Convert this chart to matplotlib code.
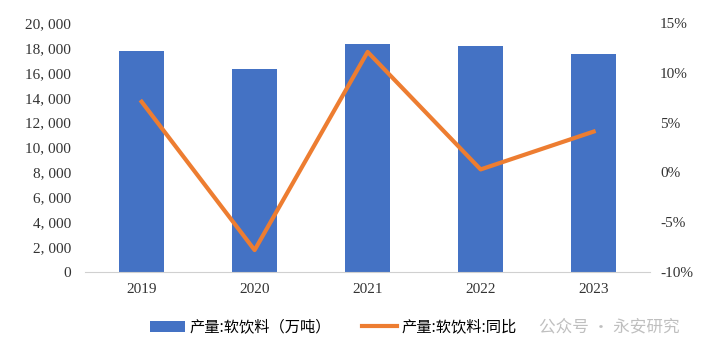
import numpy as np
import matplotlib.pyplot as plt
from matplotlib.ticker import FuncFormatter

plt.rcParams['font.family'] = ['Noto Sans CJK SC', 'DejaVu Sans']

# datos
years = ['2019', '2020', '2021', '2022', '2023']
output = [17750, 16300, 18310, 18150, 17510]
yoy = [7.1, -7.8, 12.1, 0.3, 4.1]

blue = '#4472C4'
orange = '#ED7D31'
num_font = 'Liberation Serif'

fig = plt.figure(figsize=(7.09, 3.54), dpi=100)
ax = fig.add_axes([0.12, 0.2316, 0.797, 0.7034])
ax2 = ax.twinx()

x = np.arange(len(years))
bars = ax.bar(x, output, width=0.4, color=blue, label='产量:软饮料（万吨）', zorder=2)
line, = ax2.plot(x, yoy, color=orange, lw=3, label='产量:软饮料:同比', zorder=3)

ax.set_xlim(-0.5, 4.5)
ax.set_ylim(0, 20000)
ax.set_yticks(np.arange(0, 20001, 2000))
ax.yaxis.set_major_formatter(FuncFormatter(lambda v, p: f'{int(v):,}'.replace(',', ', ')))
ax2.set_ylim(-10, 15)
ax2.set_yticks(np.arange(-10, 16, 5))
ax2.yaxis.set_major_formatter(FuncFormatter(lambda v, p: f'{int(v)}%'))

ax.set_xticks(x)
ax.set_xticklabels(years)

for a in (ax, ax2):
    for s in a.spines.values():
        s.set_visible(False)
    a.tick_params(length=0, labelsize=11, colors='#333333')
    for lab in a.get_xticklabels() + a.get_yticklabels():
        lab.set_fontfamily(num_font)
ax.spines['bottom'].set_visible(True)
ax.spines['bottom'].set_color('#d0d0d0')
ax.tick_params(axis='x', pad=8)
ax.tick_params(axis='y', pad=10)
ax2.tick_params(axis='y', pad=7)

fig.legend([bars, line], [bars.get_label(), line.get_label()], loc='center',
           bbox_to_anchor=(0.47, 0.076), ncol=2, frameon=False, fontsize=11,
           handlelength=2.3, columnspacing=2.0, handletextpad=0.3)

fig.text(0.76, 0.076, '公众号 · 永安研究', color='#b0b0b0', alpha=0.8,
         fontsize=12, va='center', ha='left')

fig.savefig('out.png', dpi=100)
